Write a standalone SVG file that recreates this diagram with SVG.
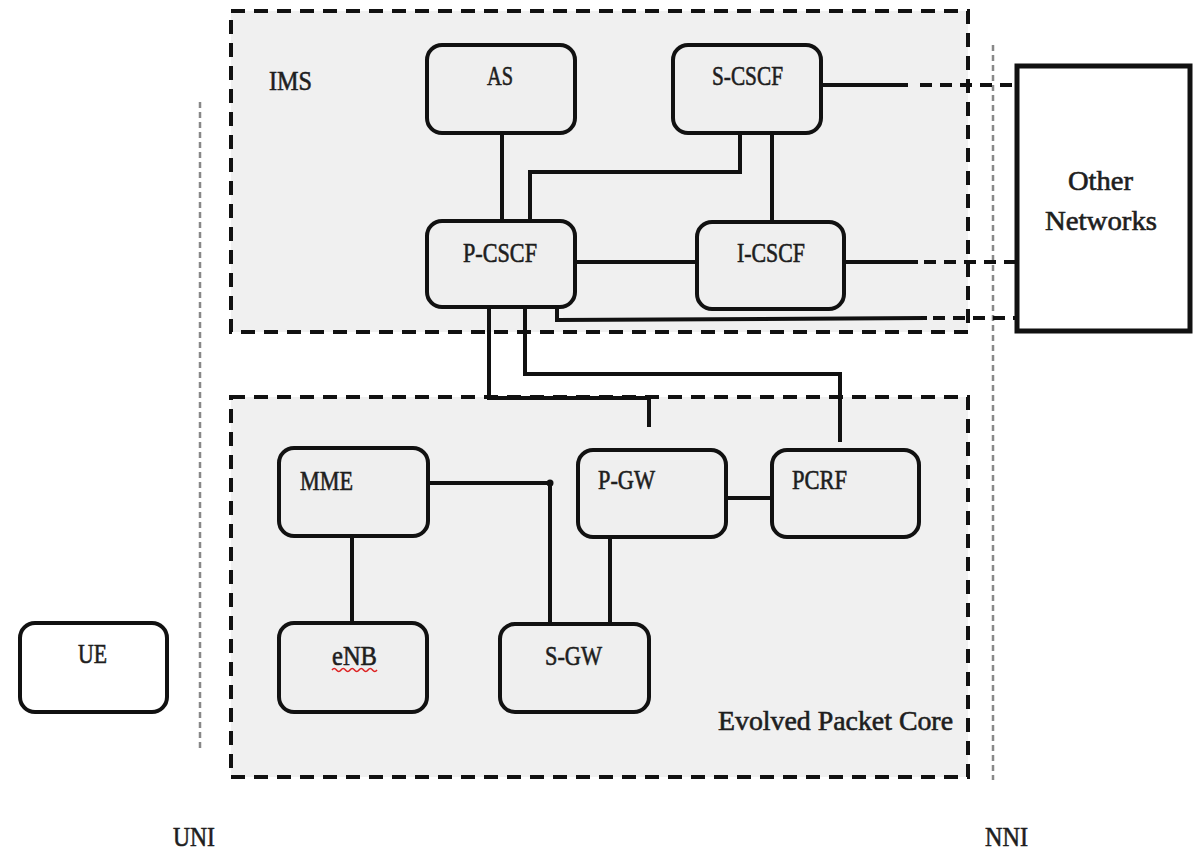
<svg xmlns="http://www.w3.org/2000/svg" width="1204" height="851" viewBox="0 0 1204 851">
<style>
.region{fill:#f0f0f0;stroke:#111;stroke-width:4;stroke-dasharray:14 9}
.node{fill:#efefef;stroke:#111;stroke-width:4}
.white{fill:#fff}
.lbl{font-family:"Liberation Serif","DejaVu Serif",serif;font-size:27px;fill:#1e1e1e;stroke:#1e1e1e;stroke-width:0.6}
.ln{fill:none;stroke:#111;stroke-width:4}
.dash{fill:none;stroke:#111;stroke-width:4;stroke-dasharray:12 8}
.ref{fill:none;stroke:#888;stroke-width:2.5;stroke-dasharray:6 4}
</style>
<rect width="1204" height="851" fill="#fff"/>
<g id="ims-region">
<rect class="region" x="231" y="11" width="737" height="321"/>
<text class="lbl" x="269" y="90" textLength="43" lengthAdjust="spacingAndGlyphs">IMS</text>
</g>
<g id="epc-region">
<rect class="region" x="231" y="397" width="737" height="380"/>
<text class="lbl" x="718" y="730" textLength="235" lengthAdjust="spacingAndGlyphs">Evolved Packet Core</text>
</g>
<g id="interfaces">
<line class="ref" x1="200" y1="102" x2="200" y2="752"/>
<line class="ref" x1="993" y1="45" x2="993" y2="780"/>
<text class="lbl" x="173" y="846" textLength="42" lengthAdjust="spacingAndGlyphs">UNI</text>
<text class="lbl" x="985" y="846" textLength="43" lengthAdjust="spacingAndGlyphs">NNI</text>
</g>
<g id="connectors">
<line class="ln" x1="502" y1="133" x2="502" y2="221"/>
<polyline class="ln" points="740,133 740,172 530,172 530,221"/>
<line class="ln" x1="772" y1="133" x2="772" y2="222"/>
<line class="ln" x1="575" y1="262" x2="697" y2="262"/>
<line class="ln" x1="820" y1="85" x2="908" y2="85"/>
<line class="dash" x1="920" y1="85" x2="1016" y2="85"/>
<line class="ln" x1="844" y1="262" x2="918" y2="262"/>
<line class="dash" x1="924" y1="262" x2="1016" y2="262"/>
<polyline class="ln" points="557,307 557,320 927,318"/>
<line class="dash" x1="933" y1="318" x2="1016" y2="318"/>
<polyline class="ln" points="489,307 489,398 649,398 649,427"/>
<polyline class="ln" points="525,307 525,374 840,374 840,442"/>
<line class="ln" x1="352" y1="536" x2="352" y2="623"/>
<polyline class="ln" points="428,483 550,483 550,624"/>
<circle cx="550" cy="483" r="3.5" fill="#111"/>
<line class="ln" x1="610" y1="537" x2="610" y2="624"/>
<line class="ln" x1="726" y1="498" x2="772" y2="498"/>
</g>
<g id="as"><rect class="node" x="427" y="45" width="148" height="88" rx="15"/><text class="lbl" x="487" y="85" textLength="26" lengthAdjust="spacingAndGlyphs">AS</text></g>
<g id="s-cscf"><rect class="node" x="673" y="45" width="148" height="88" rx="15"/><text class="lbl" x="712" y="85" textLength="71" lengthAdjust="spacingAndGlyphs">S-CSCF</text></g>
<g id="p-cscf"><rect class="node" x="427" y="221" width="148" height="86" rx="15"/><text class="lbl" x="463" y="262" textLength="74" lengthAdjust="spacingAndGlyphs">P-CSCF</text></g>
<g id="i-cscf"><rect class="node" x="697" y="222" width="147" height="87" rx="15"/><text class="lbl" x="737" y="262" textLength="68" lengthAdjust="spacingAndGlyphs">I-CSCF</text></g>
<g id="other-networks"><rect class="white" x="1017" y="66" width="173" height="265" stroke="#111" stroke-width="5"/><text class="lbl" x="1068" y="190" textLength="65" lengthAdjust="spacingAndGlyphs">Other</text><text class="lbl" x="1045" y="230" textLength="112" lengthAdjust="spacingAndGlyphs">Networks</text></g>
<g id="mme"><rect class="node" x="279" y="448" width="149" height="88" rx="15"/><text class="lbl" x="300" y="490" textLength="53" lengthAdjust="spacingAndGlyphs">MME</text></g>
<g id="p-gw"><rect class="node" x="578" y="450" width="148" height="87" rx="15"/><text class="lbl" x="598" y="489" textLength="57" lengthAdjust="spacingAndGlyphs">P-GW</text></g>
<g id="pcrf"><rect class="node" x="772" y="450" width="147" height="87" rx="15"/><text class="lbl" x="792" y="489" textLength="55" lengthAdjust="spacingAndGlyphs">PCRF</text></g>
<g id="enb"><rect class="node" x="279" y="623" width="148" height="89" rx="15"/><text class="lbl" x="332" y="665" textLength="45" lengthAdjust="spacingAndGlyphs">eNB</text><path d="M332,670 q2.25,-3 4.5,0 t4.5,0 t4.5,0 t4.5,0 t4.5,0 t4.5,0 t4.5,0 t4.5,0 t4.5,0 t4.5,0" fill="none" stroke="#d22" stroke-width="1.5"/></g>
<g id="s-gw"><rect class="node" x="500" y="624" width="149" height="88" rx="15"/><text class="lbl" x="545" y="665" textLength="57" lengthAdjust="spacingAndGlyphs">S-GW</text></g>
<g id="ue"><rect class="white" x="20" y="623" width="147" height="89" rx="15" stroke="#111" stroke-width="4"/><text class="lbl" x="78" y="663" textLength="29" lengthAdjust="spacingAndGlyphs">UE</text></g>
</svg>
